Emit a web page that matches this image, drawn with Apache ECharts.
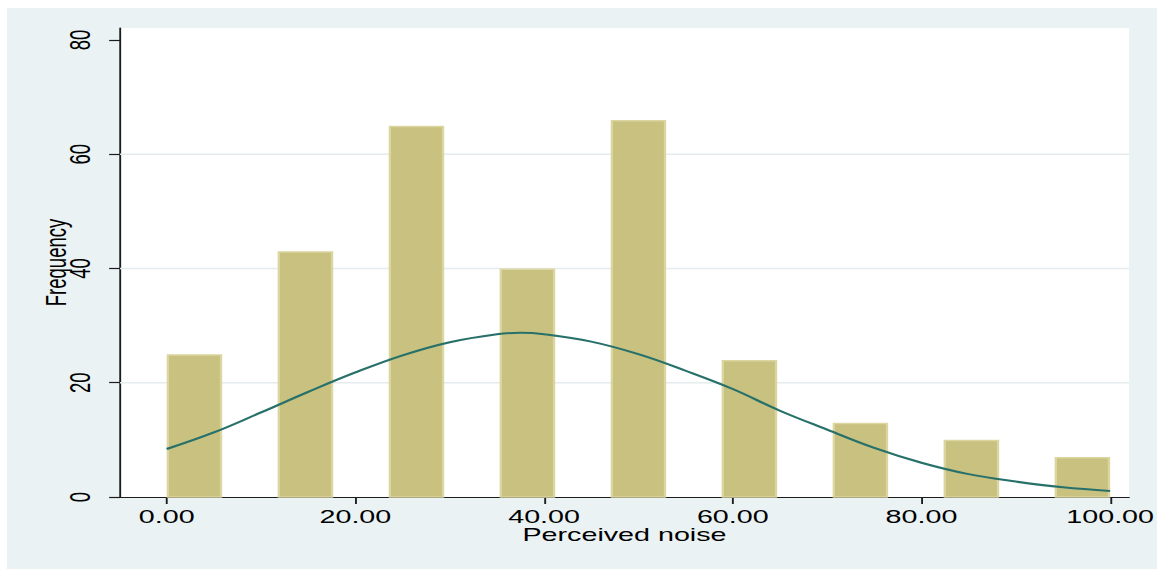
<!DOCTYPE html>
<html>
<head>
<meta charset="utf-8">
<script src="https://cdn.jsdelivr.net/npm/echarts@6/dist/echarts.min.js"></script>
<style>
  html, body { margin: 0; padding: 0; background: #ffffff; }
  #wrap { position: relative; width: 1157px; height: 569px; overflow: hidden; }
  /* The graph is laid out narrow and stretched sideways, like a Stata export resized to a wide frame */
  #chart { position: absolute; left: 0; top: 0; width: 746px; height: 569px;
           transform: scaleX(1.551); transform-origin: 0 0; }
</style>
</head>
<body>
<div id="wrap"><div id="chart"></div></div>
<script>
// Histogram bins of perceived noise (bar edges and counts)
const binLeft  = [0, 11.76, 23.53, 35.29, 47.06, 58.82, 70.59, 82.35, 94.12];
const binRight = [5.88, 17.65, 29.41, 41.18, 52.94, 64.71, 76.47, 88.24, 100];
const frequency = [25, 43, 65, 40, 66, 24, 13, 10, 7];

// Overlaid normal density curve, scaled to frequency
const curveX = [0, 5, 10, 15, 20, 25, 30, 35, 37.5, 40, 45, 50, 55, 60, 65, 70, 75, 80, 85, 90, 95, 100];
const curveY = [8.4, 11.3, 14.8, 18.4, 21.8, 24.8, 27.1, 28.5, 28.75, 28.5, 27.2, 25.0, 22.1, 18.9, 15.1, 11.8, 8.6, 6.0, 4.0, 2.7, 1.7, 1.05];

// Axis ticks and reference lines
const xTicks = [0, 20, 40, 60, 80, 100];
const yTicks = [0, 20, 40, 60, 80];
const gridValues = [20, 40, 60];

const FONT = "'Liberation Sans', Arial, Helvetica, sans-serif";
const AXIS_COLOR = '#1c1c1c';
const TEXT = { fontFamily: FONT, fontSize: 18.5, lineHeight: 15, color: '#000' };

const chart = echarts.init(document.getElementById('chart'), null, { renderer: 'svg' });

const barData = binLeft.map((l, i) => [l, binRight[i], frequency[i]]);
const curveData = curveX.map((x, i) => [x, curveY[i]]);

chart.setOption({
  animation: false,
  backgroundColor: '#ffffff',
  graphic: [{
    type: 'rect',
    left: 4.5, top: 8,
    z: -100,
    silent: true,
    shape: { width: 741.5, height: 561 },
    style: { fill: '#eaf2f3' }
  }],
  grid: {
    left: 77.37, right: 18.08, top: 28, bottom: 72,
    show: true, backgroundColor: '#ffffff', borderWidth: 0,
    outerBoundsMode: 'none'
  },
  xAxis: {
    type: 'value',
    min: -4.95, max: 102.0,
    name: 'Perceived noise',
    nameLocation: 'middle',
    nameGap: 30,
    nameMoveOverlap: false,
    nameTextStyle: TEXT,
    axisLine: { show: true, onZero: false, lineStyle: { color: AXIS_COLOR, width: 1.2 } },
    axisTick: { show: true, length: 7, customValues: xTicks, lineStyle: { color: AXIS_COLOR, width: 1.2 } },
    axisLabel: Object.assign({
      customValues: xTicks, margin: 11.8,
      formatter: v => Number(v).toFixed(2)
    }, TEXT),
    splitLine: { show: false }
  },
  yAxis: {
    type: 'value',
    min: 0, max: 82.1,
    name: 'Frequency',
    nameLocation: 'middle',
    nameGap: 34,
    nameMoveOverlap: false,
    nameTextStyle: TEXT,
    axisLine: { show: true, onZero: false, lineStyle: { color: AXIS_COLOR, width: 1.2 } },
    axisTick: { show: true, length: 7, customValues: yTicks, lineStyle: { color: AXIS_COLOR, width: 1.2 } },
    axisLabel: Object.assign({
      customValues: yTicks, rotate: 90, margin: 18.3
    }, TEXT),
    splitLine: { show: false }
  },
  series: [
    {
      // horizontal reference lines behind the bars
      type: 'custom',
      z: 1,
      silent: true,
      data: gridValues.map(v => [v]),
      encode: { y: 0 },
      renderItem: (params, api) => {
        const cs = params.coordSys;
        const y = api.coord([0, api.value(0)])[1];
        return {
          type: 'line',
          shape: { x1: cs.x, y1: y, x2: cs.x + cs.width, y2: y },
          style: { stroke: '#e4ecee', lineWidth: 1.6 }
        };
      }
    },
    {
      type: 'custom',
      z: 2,
      data: barData,
      encode: { x: [0, 1], y: 2 },
      renderItem: (params, api) => {
        const p0 = api.coord([api.value(0), api.value(2)]);
        const p1 = api.coord([api.value(1), 0]);
        const lw = 1.5;
        return {
          type: 'rect',
          shape: {
            x: p0[0] + lw / 2, y: p0[1] + lw / 2,
            width: p1[0] - p0[0] - lw, height: p1[1] - p0[1] - lw / 2
          },
          style: { fill: '#c9c17f', stroke: '#dbd59f', lineWidth: lw }
        };
      }
    },
    {
      type: 'line',
      z: 3,
      data: curveData,
      smooth: 0.4,
      showSymbol: false,
      lineStyle: { color: '#27716a', width: 2 }
    }
  ]
});
</script>
</body>
</html>
